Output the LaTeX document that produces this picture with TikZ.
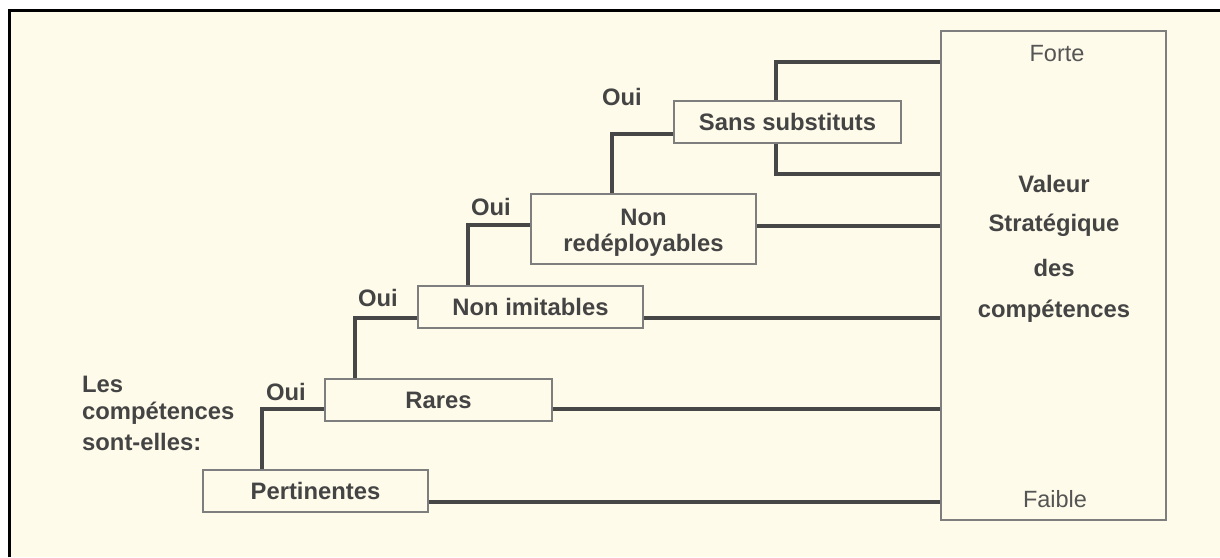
\documentclass[tikz,border=0pt]{standalone}
\usepackage{fontspec}
\setmainfont{Liberation Sans}
\definecolor{cream}{HTML}{FEFBEA}
\definecolor{txt}{HTML}{444444}
\definecolor{lite}{HTML}{555555}
\definecolor{linec}{HTML}{474747}
\definecolor{boxc}{HTML}{7E7E7E}
\tikzset{
  box/.style={draw=boxc, line width=1.6pt, fill=none, inner sep=0pt, text=txt, font=\fontsize{23.8}{28}\selectfont\bfseries, align=center},
  lbl/.style={inner sep=0pt, text=txt, font=\fontsize{23.8}{28}\selectfont\bfseries},
  lit/.style={inner sep=0pt, text=lite, font=\fontsize{23.5}{28}\selectfont},
  conn/.style={draw=linec, line width=4.5pt},
  connthin/.style={draw=linec, line width=3.4pt},
}
\begin{document}
\begin{tikzpicture}[x=1pt,y=-1pt]
\useasboundingbox (0,0) rectangle (1220,557);
\fill[white] (0,0) rectangle (1220,557);
\fill[cream] (9.5,10.5) rectangle (1220,557);
\draw[black, line width=3pt] (9.5,557) -- (9.5,10.5) -- (1220,10.5);

% boxes
\node[box, minimum width=225pt, minimum height=42pt] (pert) at (315.5,491) {Pertinentes};
\node[box, minimum width=227pt, minimum height=42pt] (rares) at (438.5,400) {Rares};
\node[box, minimum width=225pt, minimum height=42pt] (imit) at (530.5,307) {Non imitables};
\node[box, minimum width=225pt, minimum height=70pt] (redep) at (643.5,229) {};
\node[lbl] (redep1) at (643.5,217) {Non};
\node[lbl] (redep2) at (643.5,245) {redéployables};
\node[box, minimum width=227pt, minimum height=42pt] (sans) at (787.5,122) {Sans substituts};
\node[box, minimum width=225pt, minimum height=489pt] (big) at (1053.5,275.5) {};

% texts in big box
\node[lit] (forte) at (1057,54) {Forte};
\node[lit] (faible) at (1055,499) {Faible};
\node[lbl] (v1) at (1054,184) {Valeur};
\node[lbl] (v2) at (1054,225) {Stratégique};
\node[lbl] (v3) at (1054,268) {des};
\node[lbl] (v4) at (1054,311) {compétences};

% left label
\node[lbl, anchor=west] (l1) at (82,384) {Les};
\node[lbl, anchor=west] (l2) at (82,413) {compétences};
\node[lbl, anchor=west] (l3) at (82,442) {sont-elles:};

% Oui labels
\node[lbl] (o1) at (286,392) {Oui};
\node[lbl] (o2) at (378,298) {Oui};
\node[lbl] (o3) at (491,207) {Oui};
\node[lbl] (o4) at (622,97) {Oui};

% coordinates for the top/bottom outputs of "Sans substituts"
\coordinate (ytop) at (0,62);
\coordinate (ybot) at (0,174);

% ladder connectors
\draw[conn] ([xshift=60pt]pert.north west) |- ([yshift=-9pt]rares.west);
\draw[conn] ([xshift=31pt]rares.north west) |- ([yshift=-11pt]imit.west);
\draw[conn] ([xshift=51pt]imit.north west) |- ([yshift=4pt]redep.west);
\draw[conn] ([xshift=82pt]redep.north west) |- ([yshift=-12pt]sans.west);

% outputs to the value box
\draw[conn] ([xshift=103pt]sans.north west) |- (big.west |- ytop);
\draw[conn] ([xshift=103pt]sans.south west) |- (big.west |- ybot);
\draw[conn] ([yshift=3pt]redep.east) -- ([yshift=3pt]redep.east -| big.west);
\draw[connthin] ([yshift=-11pt]imit.east) -- ([yshift=-11pt]imit.east -| big.west);
\draw[conn] ([yshift=-9pt]rares.east) -- ([yshift=-9pt]rares.east -| big.west);
\draw[connthin] ([yshift=-11pt]pert.east) -- ([yshift=-11pt]pert.east -| big.west);
\end{tikzpicture}
\end{document}
